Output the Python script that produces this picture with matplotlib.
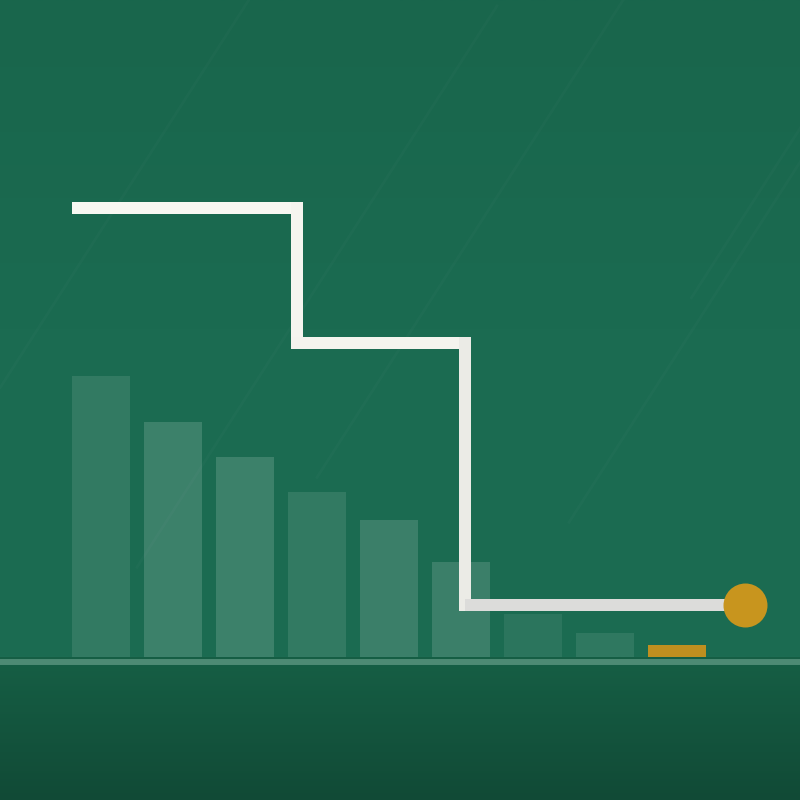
import numpy as np
import matplotlib
matplotlib.use('Agg')
import matplotlib.pyplot as plt
from matplotlib.colors import LinearSegmentedColormap

# bar data (9 bars, last one highlighted)
bar_pos = [0, 1, 2, 3, 4, 5, 6, 7, 8]
bar_vals = [62.5, 52.3, 44.5, 36.7, 30.5, 21.2, 9.5, 5.3, 2.7]
bar_alpha = [0.10, 0.15, 0.15, 0.10, 0.14, 0.14, 0.07, 0.09, 1.0]

# step line (x, y) points
step_x = [-0.4, 2.72, 2.72, 5.06, 5.06, 8.94]
step_y = [100.0, 100.0, 70.0, 70.0, 11.5, 11.5]
step_col = ['#f8f8f2', '#f5f5ef', '#f4f4ee', '#ebebe6', '#dcdcda']

gold = '#c8951e'

fig = plt.figure(figsize=(8, 8), dpi=100)
ax = fig.add_axes([0, 0, 1, 1])
x0, x1 = -101 / 72, (800 - 101) / 72
k = 4.49
y0, y1 = -(800 - 657) / k, 657 / k
ax.set_xlim(x0, x1)
ax.set_ylim(y0, y1)
ax.axis('off')

# background gradient, upper part
top_cmap = LinearSegmentedColormap.from_list('top', ['#1c6c52', '#1b6b51', '#19664c'])
grad = np.linspace(0, 1, 256).reshape(-1, 1)
ax.imshow(grad, extent=[x0, x1, 0, y1], cmap=top_cmap.reversed(), aspect='auto', zorder=0)
# lower part, darker
bot_cmap = LinearSegmentedColormap.from_list('bot', ['#165f45', '#114a36'])
ax.imshow(grad, extent=[x0, x1, y0, 0], cmap=bot_cmap, aspect='auto', zorder=0, origin='upper')

# faint diagonal lines
for xs, ys, ln in [(-1.4, 60, 4.0), (0.5, 20, 5.0), (3.0, 40, 6.0), (6.5, 30, 4.5), (8.2, 80, 4.0)]:
    ax.plot([xs, xs + ln], [ys, ys + ln * 25], color='white', alpha=0.018, lw=2, zorder=1)

# bars
for i, (p, v, a) in enumerate(zip(bar_pos, bar_vals, bar_alpha)):
    fc = (0.75, 0.56, 0.12, 1.0) if i == len(bar_pos) - 1 else (1, 1, 1, a)
    ax.bar(p, v, width=0.806, bottom=0, color=fc, zorder=2)

# baseline
ax.axhline(-1.2, color='#4d8a74', lw=4.3, zorder=3)

# step line
lw = 12 * 72 / 100
for i in range(len(step_x) - 1):
    cap = 'butt' if i in (0, len(step_x) - 2) else 'projecting'
    ax.plot(step_x[i:i + 2], step_y[i:i + 2], color=step_col[i], lw=lw,
            solid_capstyle=cap, zorder=4)

# end dot
ax.scatter([step_x[-1]], [step_y[-1]], s=(44 * 0.72) ** 2, color=gold, zorder=5, linewidths=0)

plt.savefig('out.png', dpi=100)
